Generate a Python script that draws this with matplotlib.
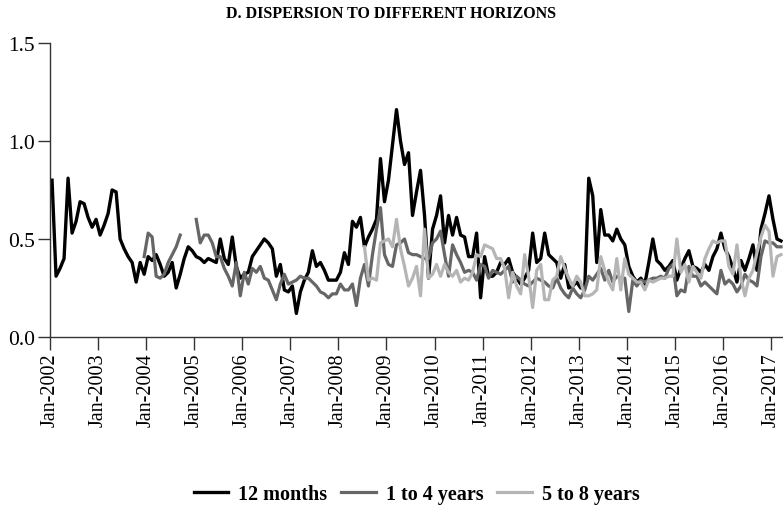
import numpy as np
import matplotlib
matplotlib.use('Agg')
import matplotlib.pyplot as plt

# monthly dispersion, Jan-2002 onwards (NaN = not available)
nan = np.nan

months_12 = [
    0.80, 0.31, 0.35, 0.40, 0.81, 0.53, 0.59, 0.69, 0.68, 0.61, 0.56, 0.60,
    0.52, 0.57, 0.63, 0.75, 0.74, 0.50, 0.45, 0.41, 0.38, 0.28, 0.38, 0.32,
    0.41, 0.39, 0.42, 0.37, 0.31, 0.33, 0.38, 0.25, 0.32, 0.40, 0.46, 0.44,
    0.41, 0.40, 0.38, 0.40, 0.39, 0.38, 0.50, 0.40, 0.37, 0.51, 0.36, 0.30,
    0.32, 0.33, 0.41, 0.44, 0.47, 0.50, 0.48, 0.45, 0.31, 0.37, 0.24, 0.23,
    0.26, 0.12, 0.23, 0.29, 0.33, 0.44, 0.36, 0.38, 0.34, 0.29, 0.29, 0.29,
    0.33, 0.43, 0.37, 0.59, 0.56, 0.61, 0.46, 0.51, 0.55, 0.60, 0.91, 0.69,
    0.80, 0.98, 1.16, 1.00, 0.88, 0.94, 0.62, 0.74, 0.85, 0.62, 0.30, 0.55,
    0.62, 0.72, 0.48, 0.62, 0.52, 0.61, 0.52, 0.51, 0.41, 0.41, 0.53, 0.20,
    0.41, 0.31, 0.31, 0.33, 0.38, 0.37, 0.40, 0.33, 0.30, 0.27, 0.30, 0.34,
    0.53, 0.38, 0.40, 0.53, 0.42, 0.40, 0.38, 0.30, 0.37, 0.25, 0.26, 0.28,
    0.25, 0.25, 0.81, 0.72, 0.38, 0.65, 0.52, 0.52, 0.49, 0.55, 0.50, 0.47,
    0.36, 0.31, 0.28, 0.30, 0.27, 0.38, 0.50, 0.39, 0.37, 0.34, 0.36, 0.39,
    0.29, 0.35, 0.40, 0.44, 0.36, 0.35, 0.33, 0.37, 0.34, 0.41, 0.45, 0.53,
    0.45, 0.41, 0.35, 0.28, 0.39, 0.34, 0.40, 0.47, 0.34, 0.55, 0.63, 0.72,
    0.60, 0.50, 0.49,
]

years_1_4 = [nan] * 23 + [
    0.41, 0.53, 0.51, 0.31, 0.30, 0.32, 0.38, 0.42, 0.46, 0.52, nan, nan,
    nan, 0.60, 0.48, 0.52, 0.52, 0.48, 0.41, 0.41, 0.35, 0.31, 0.26, 0.38,
    0.21, 0.33, 0.27, 0.35, 0.33, 0.36, 0.30, 0.29, 0.24, 0.19, 0.27, 0.32,
    0.27, 0.28, 0.29, 0.31, 0.30, 0.30, 0.28, 0.26, 0.23, 0.22, 0.20, 0.22,
    0.22, 0.27, 0.24, 0.24, 0.27, 0.16, 0.30, 0.37, 0.26, 0.42, 0.55, 0.66,
    0.42, 0.37, 0.36, 0.47, 0.48, 0.50, 0.43, 0.42, 0.42, 0.41, 0.40, 0.40,
    0.48, 0.50, 0.54, 0.42, 0.31, 0.47, 0.42, 0.38, 0.33, 0.34, 0.33, 0.29,
    0.37, 0.36, 0.30, 0.34, 0.33, 0.32, 0.34, 0.36, 0.28, 0.31, 0.29, 0.27,
    0.26, 0.28, 0.30, 0.29, 0.28, 0.26, 0.25, 0.30, 0.25, 0.22, 0.20, 0.25,
    0.22, 0.20, 0.24, 0.31, 0.29, 0.32, 0.35, 0.29, 0.34, 0.28, 0.31, 0.30,
    0.30, 0.13, 0.29, 0.26, 0.29, 0.28, 0.29, 0.30, 0.30, 0.31, 0.30, 0.35,
    0.37, 0.21, 0.24, 0.23, 0.36, 0.31, 0.31, 0.26, 0.28, 0.26, 0.24, 0.22,
    0.34, 0.27, 0.29, 0.27, 0.23, 0.26, 0.32, 0.29, 0.28, 0.26, 0.41, 0.49,
    0.48, 0.48, 0.46, 0.46,
]

years_5_8 = [nan] * 78 + [
    0.46, 0.29, 0.30, 0.29, 0.48, 0.49, 0.50, 0.46, 0.60, 0.45, 0.36, 0.26,
    0.30, 0.36, 0.21, 0.55, 0.30, 0.32, 0.37, 0.31, 0.37, 0.33, 0.31, 0.34,
    0.28, 0.30, 0.29, 0.33, 0.42, 0.41, 0.47, 0.46, 0.45, 0.40, 0.40, 0.35,
    0.20, 0.33, 0.26, 0.22, 0.42, 0.31, 0.15, 0.34, 0.37, 0.19, 0.19, 0.29,
    0.31, 0.41, 0.35, 0.30, 0.26, 0.31, 0.28, 0.21, 0.21, 0.22, 0.24, 0.41,
    0.34, 0.28, 0.24, 0.40, 0.24, 0.40, 0.32, 0.30, 0.28, 0.28, 0.24, 0.29,
    0.28, 0.29, 0.30, 0.30, 0.31, 0.31, 0.50, 0.33, 0.37, 0.28, 0.36, 0.33,
    0.30, 0.40, 0.45, 0.49, 0.48, 0.49, 0.49, 0.36, 0.32, 0.47, 0.30, 0.21,
    0.30, 0.34, 0.43, 0.51, 0.57, 0.54, 0.31, 0.41, 0.42,
]

tick_labels = ['Jan-%d' % y for y in range(2002, 2018)]

n = len(months_12)
x = np.arange(n) + 0.5

serif = ['Liberation Serif', 'DejaVu Serif']

fig = plt.figure(figsize=(7.83, 5.10), dpi=100)
ax = fig.add_axes([0.0639, 0.3373, 0.9361, 0.5765])

ax.plot(x, months_12, color='#000000', lw=2.4, label='12 months')
ax.plot(x, years_1_4, color='#666666', lw=2.3, label='1 to 4 years')
ax.plot(x, years_5_8, color='#b5b5b5', lw=2.3, label='5 to 8 years')

ax.set_xlim(0, n)
ax.set_ylim(0, 1.5)
ax.set_xticks(np.arange(0, 12 * len(tick_labels), 12))
ax.set_xticklabels(tick_labels, rotation=90, family=serif, fontsize=14.5)
ax.set_yticks([0, 0.5, 1.0, 1.5])
ax.set_yticklabels(['0.0', '0.5', '1.0', '1.5'], family=serif, fontsize=15.5)

for s in ['top', 'right']:
    ax.spines[s].set_visible(False)
for s in ['left', 'bottom']:
    ax.spines[s].set_color('#333333')
    ax.spines[s].set_linewidth(1.0)
ax.tick_params(direction='out', length=9, width=1.0, color='#333333', pad=2)

fig.text(0.5, 0.972, 'D. DISPERSION TO DIFFERENT HORIZONS', ha='center', va='center',
         family=serif, fontweight='bold', fontsize=11.5)

fig.legend(loc='center', bbox_to_anchor=(0.532, 0.03), ncol=3, frameon=False,
           prop={'family': serif, 'weight': 'bold', 'size': 14.5},
           handlelength=1.7, handletextpad=0.5, columnspacing=0.7)

fig.savefig('out.png', dpi=100)
